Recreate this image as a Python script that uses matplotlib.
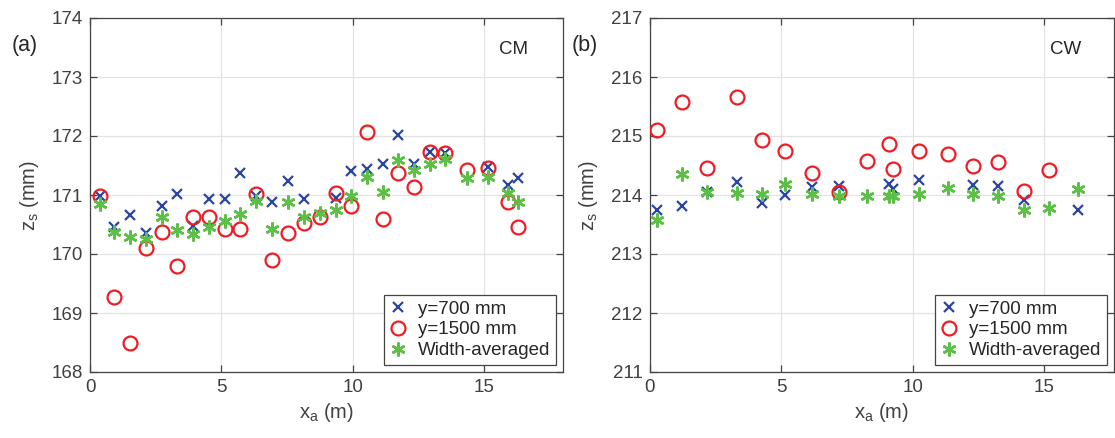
import numpy as np
import matplotlib.pyplot as plt

plt.rcParams['font.family'] = ['Liberation Sans', 'DejaVu Sans']
plt.rcParams['mathtext.fontset'] = 'custom'
plt.rcParams['mathtext.rm'] = 'Liberation Sans'
plt.rcParams['mathtext.it'] = 'Liberation Sans'

# ---- panel (a): CM ----
cm_x700 = [0.38, 0.92, 1.54, 2.13, 2.73, 3.32, 3.92, 4.54, 5.14, 5.72, 6.32, 6.91, 7.52,
           8.13, 9.35, 9.94, 10.56, 11.15, 11.73, 12.33, 12.92, 13.52, 15.15, 15.92, 16.28]
cm_z700 = [170.98, 170.46, 170.66, 170.36, 170.81, 171.02, 170.48, 170.94, 170.93, 171.37,
           170.99, 170.88, 171.24, 170.93, 170.95, 171.40, 171.44, 171.53, 172.01, 171.52,
           171.73, 171.71, 171.47, 171.17, 171.28]
cm_x = [0.38, 0.92, 1.54, 2.13, 2.73, 3.32, 3.92, 4.54, 5.14, 5.72, 6.32, 6.91, 7.52, 8.13,
        8.75, 9.35, 9.94, 10.56, 11.15, 11.73, 12.33, 12.92, 13.52, 14.33, 15.15, 15.92, 16.28]
cm_z1500 = [170.98, 169.27, 168.50, 170.11, 170.38, 169.80, 170.62, 170.63, 170.43, 170.42,
            171.02, 169.90, 170.36, 170.53, 170.63, 171.04, 170.81, 172.06, 170.60, 171.38,
            171.14, 171.73, 171.71, 171.42, 171.46, 170.88, 170.46]
cm_zavg = [170.85, 170.37, 170.28, 170.26, 170.63, 170.40, 170.34, 170.45, 170.56, 170.68,
           170.90, 170.42, 170.88, 170.63, 170.69, 170.75, 170.99, 171.31, 171.05, 171.59,
           171.42, 171.53, 171.61, 171.28, 171.31, 171.03, 170.88]

# ---- panel (b): CW ----
cw_x700 = [0.28, 1.25, 2.20, 3.31, 4.27, 5.15, 6.17, 7.21, 9.09, 9.25, 10.23, 12.30, 13.25,
           14.23, 16.29]
cw_z700 = [213.75, 213.82, 214.05, 214.22, 213.87, 214.00, 214.14, 214.16, 214.19, 214.11,
           214.25, 214.17, 214.15, 213.92, 213.75]
cw_x1500 = [0.28, 1.25, 2.20, 3.31, 4.27, 5.15, 6.17, 7.21, 8.27, 9.09, 9.25, 10.23, 11.33,
            12.30, 13.25, 14.23, 15.18]
cw_z1500 = [215.11, 215.58, 214.45, 215.66, 214.94, 214.75, 214.38, 214.05, 214.57, 214.87,
            214.44, 214.75, 214.70, 214.49, 214.56, 214.07, 214.42]
cw_xavg = [0.28, 1.25, 2.20, 3.31, 4.27, 5.15, 6.17, 7.21, 8.27, 9.09, 9.25, 10.23, 11.33,
           12.30, 13.25, 14.23, 15.18, 16.29]
cw_zavg = [213.58, 214.35, 214.05, 214.03, 214.02, 214.19, 214.01, 213.98, 213.99, 213.98,
           213.98, 214.02, 214.12, 214.02, 213.99, 213.74, 213.78, 214.10]

blue = '#2b45a0'
red = '#ee1c24'
green = '#5cbf46'
txt = '#404040'

fig = plt.figure(figsize=(11.15, 4.38), dpi=100)
ax1 = fig.add_axes([90 / 1115, 66 / 438, 473 / 1115, 354 / 438])
ax2 = fig.add_axes([649.5 / 1115, 66 / 438, 464.5 / 1115, 354 / 438])


def style(ax, ylim, xmax, tag):
    ax.set_xlim(0, xmax)
    ax.set_ylim(*ylim)
    ax.set_xticks([0, 5, 10, 15])
    ax.set_yticks(np.arange(ylim[0], ylim[1] + 1))
    ax.grid(True, color='#e3e3e3', linewidth=0.9)
    ax.set_axisbelow(True)
    ax.tick_params(direction='in', top=True, right=True, length=5, width=0.9,
                   colors='#444444', labelsize=13.5, labelcolor=txt, pad=5)
    for s in ax.spines.values():
        s.set_color('#444444')
        s.set_linewidth(0.9)
    ax.set_xlabel(r'x$_\mathrm{a}$ (m)', fontsize=14.5, color=txt, labelpad=4)
    ax.set_ylabel(r'z$_\mathrm{s}$ (mm)', fontsize=14.5, color=txt, labelpad=8)
    ax.text(0.895, 0.91, tag, transform=ax.transAxes, ha='center', va='center',
            fontsize=13.5, color='#262626')


def draw(ax, x1, z1, x2, z2, x3, z3):
    ax.plot(x1, z1, 'x', color=blue, ms=7.5, mew=1.6, label='y=700 mm', zorder=3)
    ax.plot(x2, z2, 'o', color=red, ms=10, mew=1.6, mfc='none', label='y=1500 mm', zorder=3)
    ax.plot(x3, z3, linestyle='none', marker=(6, 2, 0), color=green, ms=10, mew=1.8,
            label='Width-averaged', zorder=3)
    leg = ax.legend(loc='lower right', bbox_to_anchor=(0.985, 0.02), borderaxespad=0,
                    fontsize=13.5, fancybox=False, framealpha=1, edgecolor='#444444',
                    handlelength=0.9, handletextpad=0.6, borderpad=0.3, labelspacing=0.2,
                    labelcolor='#262626')
    leg.get_frame().set_linewidth(0.9)


draw(ax1, cm_x700, cm_z700, cm_x, cm_z1500, cm_x, cm_zavg)
style(ax1, (168, 174), 18, 'CM')
draw(ax2, cw_x700, cw_z700, cw_x1500, cw_z1500, cw_xavg, cw_zavg)
style(ax2, (211, 217), 17.65, 'CW')

fig.text(25 / 1115, 1 - 46 / 438, '(a)', ha='center', va='center', fontsize=15.5, color='#262626')
fig.text(585 / 1115, 1 - 46 / 438, '(b)', ha='center', va='center', fontsize=15.5, color='#262626')

fig.savefig('out.png', dpi=100)
